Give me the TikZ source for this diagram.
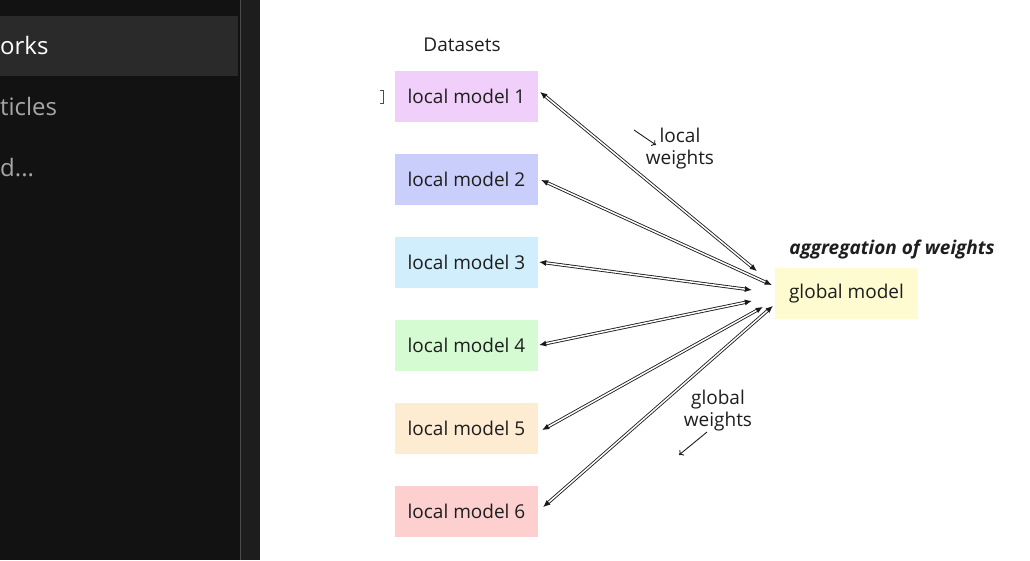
\documentclass[tikz,border=0pt]{standalone}
\usepackage{fontspec}
\setmainfont{Open Sans}
\usetikzlibrary{arrows.meta,calc}
\definecolor{sidebg}{HTML}{121212}
\definecolor{hlbg}{HTML}{2A2A2A}
\definecolor{stripbg}{HTML}{1D1D1D}
\definecolor{sepc}{HTML}{4A4A4A}
\definecolor{sidegray}{HTML}{A6A6A6}
\definecolor{txt}{HTML}{1E1E1E}
\definecolor{cA}{HTML}{F0D0FA}
\definecolor{cB}{HTML}{C9CEFB}
\definecolor{cC}{HTML}{D1EEFD}
\definecolor{cD}{HTML}{D5FBD3}
\definecolor{cE}{HTML}{FDEBD2}
\definecolor{cF}{HTML}{FDCFCF}
\definecolor{cG}{HTML}{FDFBCF}
\tikzset{
  lbox/.style={minimum width=143pt, minimum height=51pt, inner sep=0pt, text=txt,
    font=\fontsize{19}{22}\selectfont},
  lbl/.style={text=txt, align=center, font=\fontsize{19}{22}\selectfont, inner sep=0pt},
  dbl/.style={draw=black!90, line width=0.85pt, double=white, double distance=1.5pt,
    {Latex[length=7pt,width=6pt]}-{Latex[length=7pt,width=6pt]}},
  smallarr/.style={draw=txt, line width=0.9pt, -{To[length=4pt,width=7pt]}},
  sidetxt/.style={font=\fontsize{24}{27}\selectfont, inner sep=0pt, anchor=base west}
}
\begin{document}
\begin{tikzpicture}[x=1pt,y=-1pt]
\useasboundingbox (0,0) rectangle (1030,560);
\fill[white] (0,0) rectangle (1030,560);
% sidebar
\fill[sidebg] (0,0) rectangle (240,560);
\fill[hlbg] (0,16) rectangle (238,76);
\fill[stripbg] (241,0) rectangle (260,560);
\draw[sepc, line width=1.2pt] (240.5,0) -- (240.5,560);
\node[sidetxt, text=white] (s1) at (0,54) {orks};
\node[sidetxt, text=sidegray] (s2) at (0,115) {ticles};
\node[sidetxt, text=sidegray] (s3) at (0,176) {d...};
% title
\node[lbl] (ds) at (462,45) {Datasets};
% small artifact
\draw[black!70, line width=0.8pt] (380,90) -- (383,90) -- (383,103) -- (380,103);
% local models
\node[lbox, fill=cA] (b1) at (466.5,96.5) {local model 1};
\node[lbox, fill=cB] (b2) at (466.5,179.5) {local model 2};
\node[lbox, fill=cC] (b3) at (466.5,262.5) {local model 3};
\node[lbox, fill=cD] (b4) at (466.5,345.5) {local model 4};
\node[lbox, fill=cE] (b5) at (466.5,428.5) {local model 5};
\node[lbox, fill=cF] (b6) at (466.5,511.5) {local model 6};
% global model
\node[lbox, fill=cG] (g) at (846.5,293.5) {global model};
\node[text=txt, inner sep=0pt, font=\fontsize{19}{22}\selectfont\bfseries\itshape] (agg) at (892,250) {aggregation of weights};
% connectors
\draw[dbl] ($(b1.east)+(2,-4.5)$) -- ($(g.west)+(-18,-22.5)$);
\draw[dbl] ($(b2.east)+(3,0.5)$) -- ($(g.west)+(-3,-8.5)$);
\draw[dbl] ($(b3.east)+(1,-0.5)$) -- ($(g.west)+(-23,-3.5)$);
\draw[dbl] ($(b4.east)+(1,-0.5)$) -- ($(g.west)+(-23,7.5)$);
\draw[dbl] ($(b5.east)+(4,1.5)$) -- ($(g.west)+(-12,13.5)$);
\draw[dbl] ($(b6.east)+(5,-4.5)$) -- ($(g.west)+(-2,12.5)$);
% labels
\node[lbl] (lw) at (680,148.5) {local\\weights};
\coordinate (la1) at (634,130);
\coordinate (la2) at (656,145);
\draw[smallarr] (la1) -- (la2);
\node[lbl] (gw) at (718,410.5) {global\\weights};
\coordinate (ga1) at (707,432);
\coordinate (ga2) at (679,455);
\draw[smallarr] (ga1) -- (ga2);
\end{tikzpicture}
\end{document}
